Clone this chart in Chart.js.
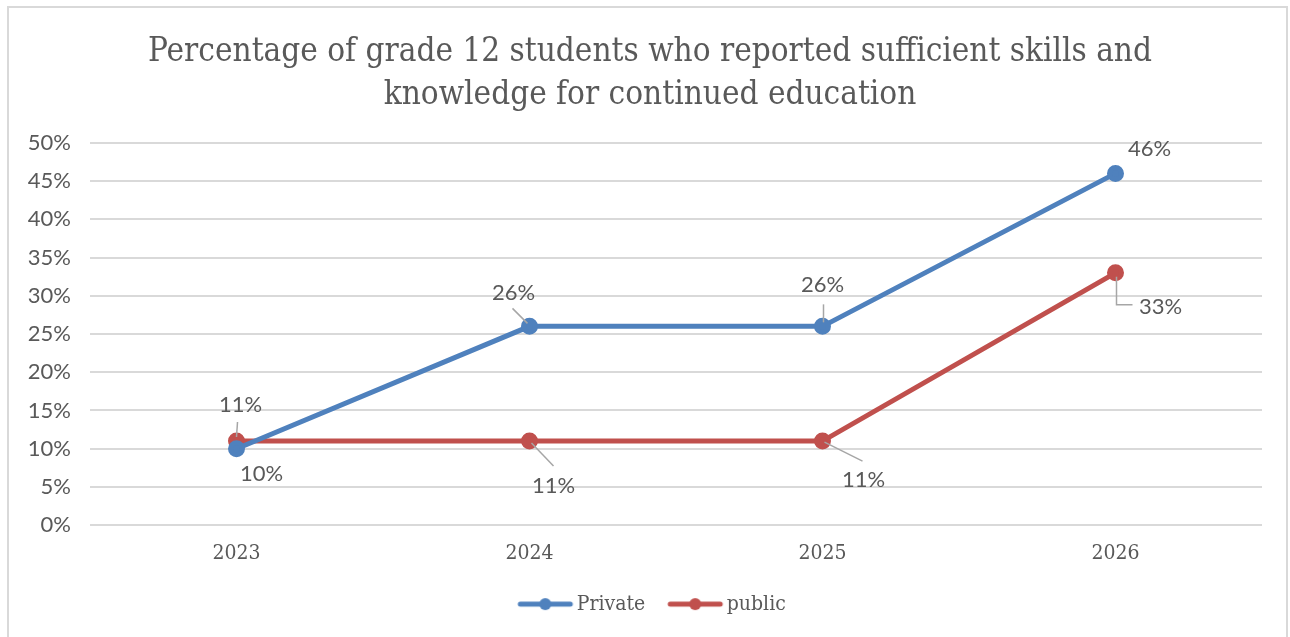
<!DOCTYPE html>
<html>
<head>
<meta charset="utf-8">
<script src="https://cdn.jsdelivr.net/npm/chart.js@4"></script>
<style>
  html, body { margin: 0; padding: 0; background: #fff; }
  body { width: 1290px; height: 637px; position: relative; overflow: hidden; }
  #frame { position: absolute; left: 7px; top: 6px; width: 1277px; height: 660px;
           border: 2px solid #d9d9d9; border-bottom: none; }
  #wrap { position: absolute; left: 0; top: 0; width: 1290px; height: 637px; }
</style>
</head>
<body>
<div id="frame"></div>
<div id="wrap"><canvas id="gradeChart"></canvas></div>
<script>
// values (percent) per school type
const years = ['2023', '2024', '2025', '2026'];
const privateValues = [10, 26, 26, 46];
const publicValues = [11, 11, 11, 33];
const yMin = 0;
const yMax = 50;
const yStep = 5;

// where each value label sits relative to its point, plus leader line points
const labelPlacement = [
  [
    { dx: 25, dy: 25 },
    { dx: -16, dy: -33, leader: [[-17, -18], [-2, -3]] },
    { dx: 0, dy: -41, leader: [[1, -22], [1, -4]] },
    { dx: 34, dy: -24 }
  ],
  [
    { dx: 4, dy: -36, leader: [[1, -19], [0, -4]] },
    { dx: 24, dy: 45, leader: [[2, 2], [24, 25]] },
    { dx: 41, dy: 39, leader: [[2, 1], [40, 20]] },
    { dx: 45, dy: 34, leader: [[1, 4], [1, 32], [17, 32]] }
  ]
];

const textColor = '#595959';
const serif = "'DejaVu Serif Condensed', 'DejaVu Serif', 'Liberation Serif', serif";
const sans = "Lato, 'Liberation Sans', sans-serif";

// legend swatch: short line with a dot, pushed to the right so it sits close to the text
function lineSwatch(color) {
  const c = document.createElement('canvas');
  c.width = 72; c.height = 14;
  const g = c.getContext('2d');
  g.strokeStyle = color;
  g.lineWidth = 5;
  g.lineCap = 'round';
  g.beginPath(); g.moveTo(18, 7); g.lineTo(68, 7); g.stroke();
  g.fillStyle = color;
  g.beginPath(); g.arc(43, 7, 6, 0, Math.PI * 2); g.fill();
  return c;
}

// title and legend are centred over the whole frame, not just the plot
const centreBlocks = {
  id: 'centreBlocks',
  afterLayout(chart) {
    [[chart.titleBlock, 14], [chart.legend, 12]].forEach(([box, shift]) => {
      if (!box) return;
      box.left += shift;
      box.right += shift;
      if (box.legendHitBoxes) box.legendHitBoxes.forEach(h => { h.left += shift; });
    });
  }
};

const valueLabels = {
  id: 'valueLabels',
  afterDatasetsDraw(chart) {
    const ctx = chart.ctx;
    ctx.save();
    ctx.font = '22px ' + sans;
    ctx.fillStyle = textColor;
    ctx.textAlign = 'center';
    ctx.textBaseline = 'middle';
    chart.data.datasets.forEach((ds, di) => {
      chart.getDatasetMeta(di).data.forEach((pt, i) => {
        const p = labelPlacement[di][i];
        if (p.leader) {
          ctx.strokeStyle = '#a6a6a6';
          ctx.lineWidth = 1.5;
          ctx.beginPath();
          p.leader.forEach(([lx, ly], k) => {
            if (k === 0) ctx.moveTo(pt.x + lx, pt.y + ly);
            else ctx.lineTo(pt.x + lx, pt.y + ly);
          });
          ctx.stroke();
        }
        ctx.fillText(ds.data[i] + '%', pt.x + p.dx, pt.y + p.dy);
      });
    });
    ctx.restore();
  }
};

const ctx = document.getElementById('gradeChart').getContext('2d');
new Chart(ctx, {
  type: 'line',
  data: {
    labels: years,
    datasets: [
      {
        label: 'Private',
        data: privateValues,
        borderColor: '#4f81bd',
        backgroundColor: '#4f81bd',
        borderWidth: 5,
        pointRadius: 6,
        pointHoverRadius: 6
      },
      {
        label: 'public',
        data: publicValues,
        borderColor: '#c0504d',
        backgroundColor: '#c0504d',
        borderWidth: 5,
        pointRadius: 6,
        pointHoverRadius: 6
      }
    ]
  },
  options: {
    responsive: true,
    maintainAspectRatio: false,
    animation: false,
    layout: { padding: { left: 10, right: 28, top: 0, bottom: 12.4 } },
    elements: { point: { pointStyle: 'circle' }, line: { tension: 0 } },
    scales: {
      x: {
        offset: true,
        grid: { display: false, drawTicks: false },
        border: { display: false },
        ticks: { color: textColor, font: { family: serif, size: 21 }, padding: 16 },
        afterFit(scale) { scale.height = 53.4; }
      },
      y: {
        min: yMin,
        max: yMax,
        grid: { color: '#d9d9d9', lineWidth: 2, drawTicks: false },
        border: { display: false },
        ticks: {
          stepSize: yStep,
          color: textColor,
          font: { family: sans, size: 22 },
          padding: 19,
          callback: v => v + '%'
        },
        afterFit(scale) { scale.width = 80; }
      }
    },
    plugins: {
      title: {
        display: true,
        text: ['Percentage of grade 12 students who reported sufficient skills and',
               'knowledge for continued education'],
        color: textColor,
        font: { family: serif, size: 33, weight: 'normal', lineHeight: 1.3 },
        padding: { top: 31, bottom: 26 }
      },
      legend: {
        position: 'bottom',
        labels: {
          color: textColor,
          font: { family: serif, size: 21 },
          usePointStyle: true,
          pointStyleWidth: 56,
          padding: 15,
          generateLabels(chart) {
            return chart.data.datasets.map((ds, i) => ({
              text: ds.label,
              fillStyle: ds.borderColor,
              strokeStyle: ds.borderColor,
              pointStyle: lineSwatch(ds.borderColor),
              fontColor: textColor,
              lineWidth: 0,
              datasetIndex: i
            }));
          }
        }
      },
      tooltip: { enabled: false }
    }
  },
  plugins: [centreBlocks, valueLabels]
});
</script>
</body>
</html>
